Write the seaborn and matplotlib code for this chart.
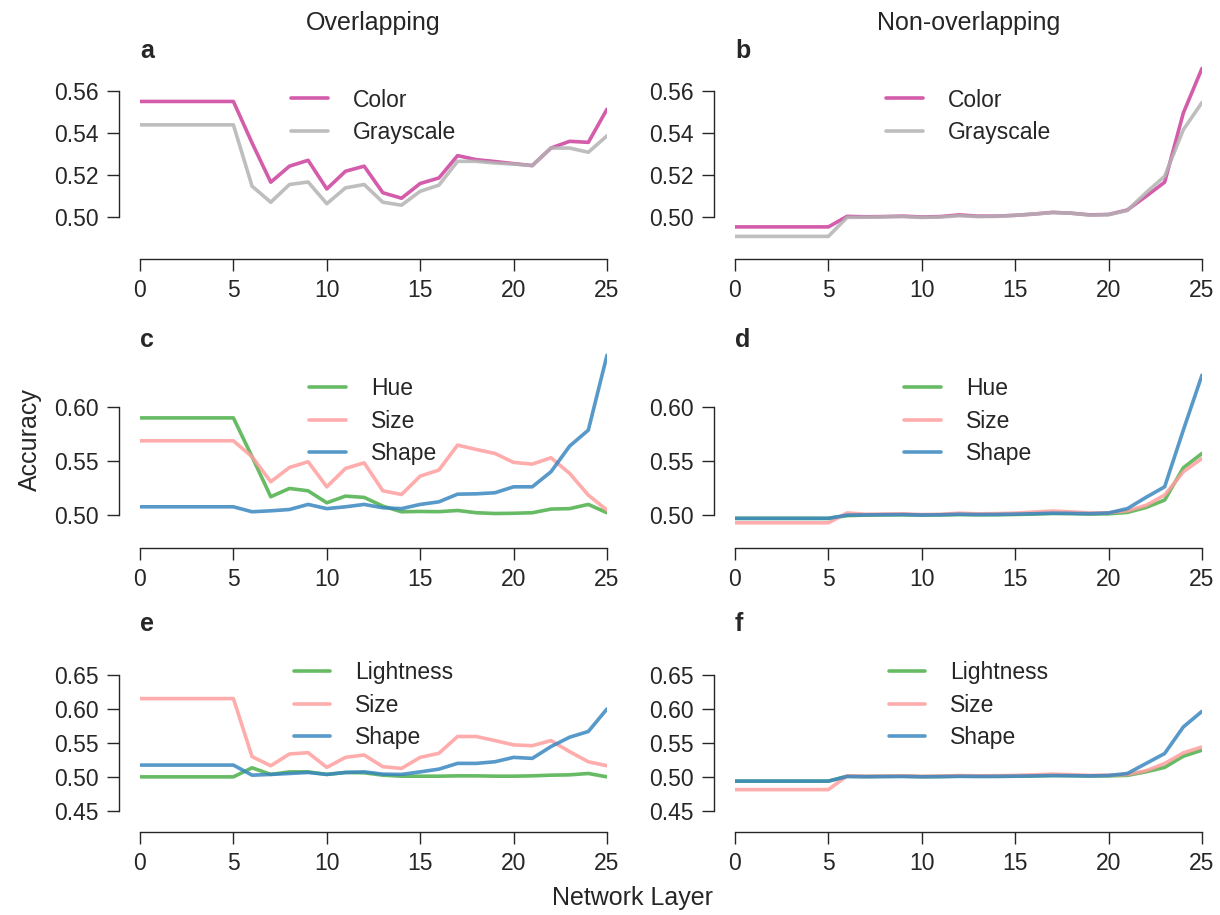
import numpy as np
import pandas as pd
import matplotlib
matplotlib.use("Agg")
import matplotlib.pyplot as plt
import seaborn as sns

layers = list(range(26))

# a: overlapping, color vs grayscale
a_color = [0.555] * 6 + [0.5353, 0.5167, 0.5243, 0.5271, 0.5135, 0.5219, 0.5243, 0.5117, 0.5091,
                          0.5161, 0.5187, 0.5293, 0.5274, 0.5265, 0.5255, 0.5246, 0.5329, 0.5361, 0.5356, 0.5513]
a_gray = [0.5439] * 6 + [0.5148, 0.5072, 0.5156, 0.5168, 0.5065, 0.5140, 0.5156, 0.5072, 0.5058,
                         0.5124, 0.5153, 0.5266, 0.5266, 0.5258, 0.5253, 0.5246, 0.5329, 0.5329, 0.5309, 0.5387]
# b: non-overlapping, color vs grayscale
b_color = [0.4955] * 6 + [0.5005, 0.5003, 0.5004, 0.5006, 0.5002, 0.5004, 0.5012, 0.5006, 0.5006,
                          0.5010, 0.5016, 0.5024, 0.5020, 0.5012, 0.5014, 0.5035, 0.5100, 0.5167, 0.5495, 0.5707]
b_gray = [0.4910] * 6 + [0.5000, 0.5001, 0.5003, 0.5004, 0.5000, 0.5002, 0.5008, 0.5004, 0.5005,
                         0.5010, 0.5016, 0.5023, 0.5020, 0.5011, 0.5013, 0.5033, 0.5117, 0.5195, 0.5416, 0.5545]
# c: overlapping, hue / size / shape
c_hue = [0.590] * 6 + [0.554, 0.517, 0.5247, 0.5225, 0.5114, 0.5176, 0.5164, 0.5083, 0.5031,
                       0.5034, 0.5032, 0.5043, 0.5022, 0.5015, 0.5017, 0.5022, 0.5056, 0.5060, 0.5099, 0.5022]
c_size = [0.5688] * 6 + [0.554, 0.5309, 0.5441, 0.5494, 0.5262, 0.5432, 0.5484, 0.5225, 0.5191,
                         0.5361, 0.5417, 0.5648, 0.5608, 0.5571, 0.5488, 0.5472, 0.5531, 0.5386, 0.5185, 0.5046]
c_shape = [0.5077] * 6 + [0.5031, 0.5040, 0.5052, 0.5099, 0.5060, 0.5077, 0.5099, 0.5068, 0.5060,
                          0.5099, 0.5123, 0.5194, 0.5197, 0.5207, 0.5262, 0.5262, 0.5401, 0.5639, 0.5787, 0.648]
# d: non-overlapping, hue / size / shape
d_hue = [0.4970] * 6 + [0.4995, 0.5000, 0.5002, 0.5003, 0.5000, 0.5002, 0.5005, 0.5003, 0.5004,
                        0.5006, 0.5010, 0.5015, 0.5014, 0.5010, 0.5012, 0.5025, 0.5070, 0.5139, 0.5438, 0.5571]
d_size = [0.4929] * 6 + [0.5020, 0.5008, 0.5010, 0.5012, 0.5005, 0.5008, 0.5018, 0.5012, 0.5014,
                         0.5018, 0.5028, 0.5038, 0.5030, 0.5020, 0.5022, 0.5040, 0.5090, 0.5185, 0.5401, 0.5525]
d_shape = [0.4970] * 6 + [0.5000, 0.5002, 0.5004, 0.5005, 0.5001, 0.5003, 0.5008, 0.5005, 0.5006,
                          0.5009, 0.5013, 0.5018, 0.5016, 0.5013, 0.5020, 0.5060, 0.5164, 0.5262, 0.5787, 0.6296]
# e: overlapping, lightness / size / shape
e_light = [0.500] * 6 + [0.5134, 0.5036, 0.5074, 0.5074, 0.5036, 0.5065, 0.5060, 0.5025, 0.5010,
                         0.5010, 0.5010, 0.5015, 0.5015, 0.5010, 0.5010, 0.5015, 0.5025, 0.5030, 0.5050, 0.500]
e_size = [0.6156] * 6 + [0.5298, 0.5164, 0.5338, 0.5357, 0.5140, 0.5288, 0.5323, 0.5150, 0.5125,
                         0.5288, 0.5348, 0.5596, 0.5596, 0.5536, 0.5472, 0.5460, 0.5536, 0.5372, 0.5223, 0.5164]
e_shape = [0.5174] * 6 + [0.5025, 0.5036, 0.5050, 0.5065, 0.5036, 0.5065, 0.5074, 0.5040, 0.5036,
                          0.5074, 0.5114, 0.5199, 0.5199, 0.5223, 0.5288, 0.5273, 0.5447, 0.5586, 0.5670, 0.6003]
# f: non-overlapping, lightness / size / shape
f_light = [0.4937] * 6 + [0.5010, 0.5005, 0.5008, 0.5010, 0.5003, 0.5006, 0.5010, 0.5008, 0.5008,
                          0.5010, 0.5014, 0.5020, 0.5018, 0.5012, 0.5015, 0.5022, 0.5074, 0.5140, 0.5305, 0.5394]
f_size = [0.4812] * 6 + [0.5015, 0.5008, 0.5012, 0.5015, 0.5008, 0.5012, 0.5020, 0.5015, 0.5018,
                         0.5022, 0.5030, 0.5040, 0.5032, 0.5022, 0.5025, 0.5035, 0.5090, 0.5197, 0.5354, 0.5442]
f_shape = [0.4937] * 6 + [0.5005, 0.5002, 0.5004, 0.5006, 0.5001, 0.5003, 0.5008, 0.5006, 0.5007,
                          0.5010, 0.5014, 0.5020, 0.5017, 0.5014, 0.5020, 0.5050, 0.5197, 0.5345, 0.5737, 0.5968]

colors = {"Color": "#cc3f9c", "Grayscale": "#b3b3b3", "Hue": "#4daf4a", "Lightness": "#4daf4a",
          "Size": "#ff9e9e", "Shape": "#3a87c0"}

panels = [
    ("a", {"Color": a_color, "Grayscale": a_gray}),
    ("b", {"Color": b_color, "Grayscale": b_gray}),
    ("c", {"Hue": c_hue, "Size": c_size, "Shape": c_shape}),
    ("d", {"Hue": d_hue, "Size": d_size, "Shape": d_shape}),
    ("e", {"Lightness": e_light, "Size": e_size, "Shape": e_shape}),
    ("f", {"Lightness": f_light, "Size": f_size, "Shape": f_shape}),
]
row_ylims = [(0.490, 0.573), (0.489, 0.651), (0.4496, 0.708)]
row_yticks = [[0.50, 0.52, 0.54, 0.56], [0.50, 0.55, 0.60], [0.45, 0.50, 0.55, 0.60, 0.65]]

sns.set_theme(style="ticks")
plt.rcParams['font.family'] = ['Liberation Sans', 'DejaVu Sans']
plt.rcParams['axes.linewidth'] = 1.0
plt.rcParams['xtick.major.size'] = 8.5
plt.rcParams['ytick.major.size'] = 8.5
plt.rcParams['xtick.major.width'] = 1.0
plt.rcParams['ytick.major.width'] = 1.0
plt.rcParams['xtick.major.pad'] = 6
plt.rcParams['ytick.major.pad'] = 6
plt.rcParams['xtick.labelsize'] = 16.5
plt.rcParams['ytick.labelsize'] = 16.5

W, H = 1220, 915
fig = plt.figure(figsize=(W / 100, H / 100), dpi=100)

col_left = [140, 735]
row_bottom = [238.5, 527, 811]
ax_w, ax_h = 467, 175

for i, (letter, series) in enumerate(panels):
    row, col = i // 2, i % 2
    ax = fig.add_axes([col_left[col] / W, 1 - row_bottom[row] / H, ax_w / W, ax_h / H])
    df = pd.DataFrame(series)
    df["layer"] = layers
    long = df.melt(id_vars="layer", var_name="kind", value_name="acc")
    for name in series:
        sub = long[long["kind"] == name]
        sns.lineplot(data=sub, x="layer", y="acc", ax=ax, color=colors[name], lw=2.6,
                     alpha=0.85, label=name)
    ax.set_xlim(0, 25)
    ax.set_ylim(*row_ylims[row])
    ax.set_xticks([0, 5, 10, 15, 20, 25])
    ax.set_yticks(row_yticks[row])
    ax.set_yticklabels([f"{t:.2f}" for t in row_yticks[row]])
    ax.set_xlabel("")
    ax.set_ylabel("")
    sns.despine(ax=ax, offset=15, trim=True)
    ax.legend(loc="upper center", bbox_to_anchor=(0.5, 0.975), frameon=False, fontsize=16.5,
              handlelength=1.6, handletextpad=1.1, labelspacing=0.42)
    # panel letter
    fig.text(col_left[col] / W, 1 - (row_bottom[row] - ax_h - 12) / H, letter,
             fontsize=18, fontweight="bold", ha="left", va="center")

fig.text((140 + 233.5) / W, 1 - 23 / H, "Overlapping", fontsize=18, ha="center", va="center")
fig.text((735 + 233.5) / W, 1 - 23 / H, "Non-overlapping", fontsize=18, ha="center", va="center")
fig.text(30 / W, 1 - 440 / H, "Accuracy", fontsize=18, rotation=90, ha="center", va="center")
fig.text(633 / W, 1 - 898 / H, "Network Layer", fontsize=18, ha="center", va="center")

fig.savefig("out.png", dpi=100)
